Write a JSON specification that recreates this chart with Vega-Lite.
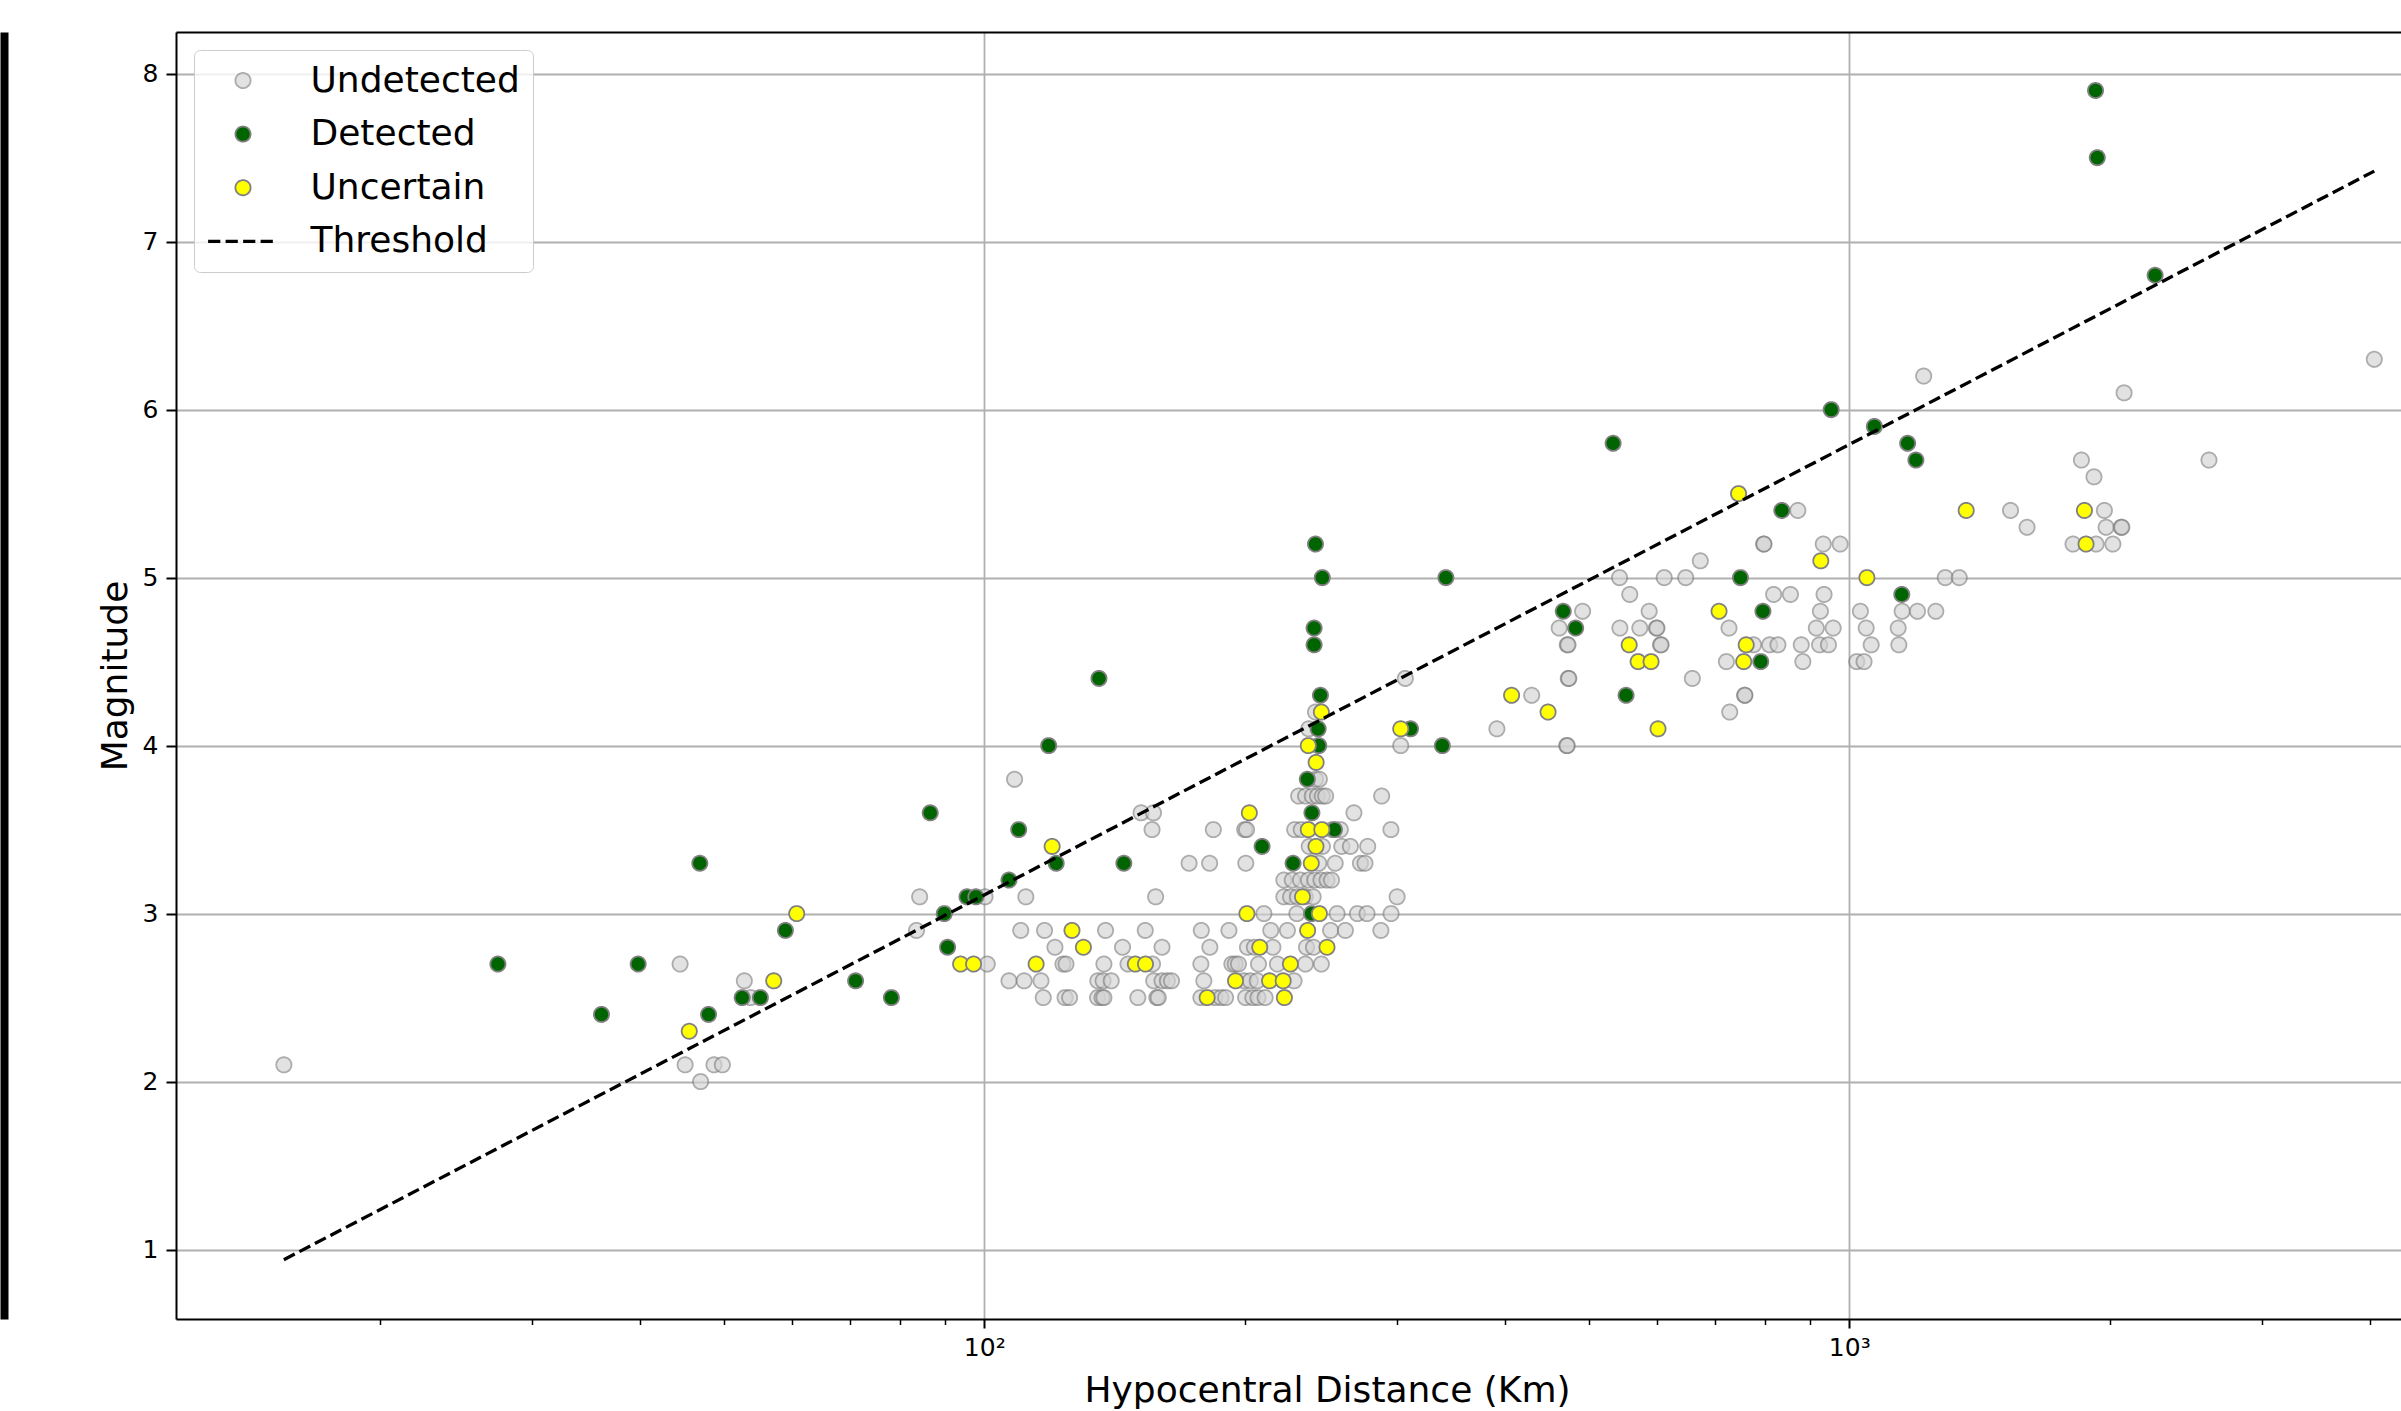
{
  "$schema": "https://vega.github.io/schema/vega-lite/v6.json",
  "width": 2225,
  "height": 1287,
  "autosize": {"type": "none"},
  "padding": {"left": 176, "top": 32, "right": 0, "bottom": 92},
  "background": "white",
  "config": {
    "view": {"stroke": null},
    "font": "DejaVu Sans",
    "legend": {
      "orient": "top-left", "offset": 18, "padding": 12.5, "rowPadding": 17.6,
      "symbolSize": 230, "symbolOffset": 18.5, "labelOffset": 49.5, "symbolOpacity": 1,
      "labelFont": "DejaVu Sans", "labelFontSize": 36, "labelColor": "black", "labelLimit": 500,
      "fillColor": "rgba(255,255,255,0.8)", "strokeColor": "#cccccc", "cornerRadius": 6
    }
  },
  "datasets": {
    "thr": [{"d": 15.5, "m": 0.94}, {"d": 4045, "m": 7.42}],
    "pts": [
      {"d": 15.5, "m": 2.1, "s": "Undetected"},
      {"d": 45.1, "m": 2.1, "s": "Undetected"},
      {"d": 48.7, "m": 2.1, "s": "Undetected"},
      {"d": 49.8, "m": 2.1, "s": "Undetected"},
      {"d": 47.0, "m": 2.0, "s": "Undetected"},
      {"d": 44.5, "m": 2.7, "s": "Undetected"},
      {"d": 52.8, "m": 2.6, "s": "Undetected"},
      {"d": 53.7, "m": 2.5, "s": "Undetected"},
      {"d": 83.5, "m": 2.9, "s": "Undetected"},
      {"d": 84.2, "m": 3.1, "s": "Undetected"},
      {"d": 100.2, "m": 3.1, "s": "Undetected"},
      {"d": 108.4, "m": 3.8, "s": "Undetected"},
      {"d": 111.7, "m": 3.1, "s": "Undetected"},
      {"d": 157.8, "m": 3.1, "s": "Undetected"},
      {"d": 222, "m": 3.1, "s": "Undetected"},
      {"d": 226, "m": 3.1, "s": "Undetected"},
      {"d": 230.1, "m": 3.1, "s": "Undetected"},
      {"d": 235, "m": 3.1, "s": "Undetected"},
      {"d": 240, "m": 3.1, "s": "Undetected"},
      {"d": 300.1, "m": 3.1, "s": "Undetected"},
      {"d": 117.0, "m": 2.5, "s": "Undetected"},
      {"d": 124.0, "m": 2.5, "s": "Undetected"},
      {"d": 125.5, "m": 2.5, "s": "Undetected"},
      {"d": 135.2, "m": 2.5, "s": "Undetected"},
      {"d": 136.8, "m": 2.5, "s": "Undetected"},
      {"d": 137.5, "m": 2.5, "s": "Undetected"},
      {"d": 150.5, "m": 2.5, "s": "Undetected"},
      {"d": 158.3, "m": 2.5, "s": "Undetected"},
      {"d": 158.9, "m": 2.5, "s": "Undetected"},
      {"d": 178.0, "m": 2.5, "s": "Undetected"},
      {"d": 184.8, "m": 2.5, "s": "Undetected"},
      {"d": 187.8, "m": 2.5, "s": "Undetected"},
      {"d": 190.1, "m": 2.5, "s": "Undetected"},
      {"d": 200.5, "m": 2.5, "s": "Undetected"},
      {"d": 204.4, "m": 2.5, "s": "Undetected"},
      {"d": 207.2, "m": 2.5, "s": "Undetected"},
      {"d": 211.2, "m": 2.5, "s": "Undetected"},
      {"d": 106.8, "m": 2.6, "s": "Undetected"},
      {"d": 111.2, "m": 2.6, "s": "Undetected"},
      {"d": 116.3, "m": 2.6, "s": "Undetected"},
      {"d": 135.3, "m": 2.6, "s": "Undetected"},
      {"d": 137.2, "m": 2.6, "s": "Undetected"},
      {"d": 140.2, "m": 2.6, "s": "Undetected"},
      {"d": 157.0, "m": 2.6, "s": "Undetected"},
      {"d": 160.5, "m": 2.6, "s": "Undetected"},
      {"d": 162.8, "m": 2.6, "s": "Undetected"},
      {"d": 164.6, "m": 2.6, "s": "Undetected"},
      {"d": 179.4, "m": 2.6, "s": "Undetected"},
      {"d": 199.7, "m": 2.6, "s": "Undetected"},
      {"d": 203.0, "m": 2.6, "s": "Undetected"},
      {"d": 206.8, "m": 2.6, "s": "Undetected"},
      {"d": 228.1, "m": 2.6, "s": "Undetected"},
      {"d": 100.8, "m": 2.7, "s": "Undetected"},
      {"d": 123.3, "m": 2.7, "s": "Undetected"},
      {"d": 124.3, "m": 2.7, "s": "Undetected"},
      {"d": 137.5, "m": 2.7, "s": "Undetected"},
      {"d": 146.6, "m": 2.7, "s": "Undetected"},
      {"d": 156.5, "m": 2.7, "s": "Undetected"},
      {"d": 178.0, "m": 2.7, "s": "Undetected"},
      {"d": 193.3, "m": 2.7, "s": "Undetected"},
      {"d": 195.0, "m": 2.7, "s": "Undetected"},
      {"d": 196.7, "m": 2.7, "s": "Undetected"},
      {"d": 207.5, "m": 2.7, "s": "Undetected"},
      {"d": 218.2, "m": 2.7, "s": "Undetected"},
      {"d": 235.1, "m": 2.7, "s": "Undetected"},
      {"d": 245.3, "m": 2.7, "s": "Undetected"},
      {"d": 120.7, "m": 2.8, "s": "Undetected"},
      {"d": 144.5, "m": 2.8, "s": "Undetected"},
      {"d": 160.5, "m": 2.8, "s": "Undetected"},
      {"d": 182.3, "m": 2.8, "s": "Undetected"},
      {"d": 201.5, "m": 2.8, "s": "Undetected"},
      {"d": 205.2, "m": 2.8, "s": "Undetected"},
      {"d": 215.6, "m": 2.8, "s": "Undetected"},
      {"d": 235.8, "m": 2.8, "s": "Undetected"},
      {"d": 240.2, "m": 2.8, "s": "Undetected"},
      {"d": 110.2, "m": 2.9, "s": "Undetected"},
      {"d": 117.4, "m": 2.9, "s": "Undetected"},
      {"d": 138.1, "m": 2.9, "s": "Undetected"},
      {"d": 153.5, "m": 2.9, "s": "Undetected"},
      {"d": 178.2, "m": 2.9, "s": "Undetected"},
      {"d": 191.8, "m": 2.9, "s": "Undetected"},
      {"d": 214.4, "m": 2.9, "s": "Undetected"},
      {"d": 224.1, "m": 2.9, "s": "Undetected"},
      {"d": 251.4, "m": 2.9, "s": "Undetected"},
      {"d": 261.5, "m": 2.9, "s": "Undetected"},
      {"d": 287.4, "m": 2.9, "s": "Undetected"},
      {"d": 210.5, "m": 3.0, "s": "Undetected"},
      {"d": 229.8, "m": 3.0, "s": "Undetected"},
      {"d": 255.8, "m": 3.0, "s": "Undetected"},
      {"d": 270.0, "m": 3.0, "s": "Undetected"},
      {"d": 277.0, "m": 3.0, "s": "Undetected"},
      {"d": 295.3, "m": 3.0, "s": "Undetected"},
      {"d": 222, "m": 3.2, "s": "Undetected"},
      {"d": 227, "m": 3.2, "s": "Undetected"},
      {"d": 232, "m": 3.2, "s": "Undetected"},
      {"d": 237, "m": 3.2, "s": "Undetected"},
      {"d": 241, "m": 3.2, "s": "Undetected"},
      {"d": 245, "m": 3.2, "s": "Undetected"},
      {"d": 249, "m": 3.2, "s": "Undetected"},
      {"d": 252, "m": 3.2, "s": "Undetected"},
      {"d": 172.5, "m": 3.3, "s": "Undetected"},
      {"d": 182.2, "m": 3.3, "s": "Undetected"},
      {"d": 200.6, "m": 3.3, "s": "Undetected"},
      {"d": 243.6, "m": 3.3, "s": "Undetected"},
      {"d": 254.5, "m": 3.3, "s": "Undetected"},
      {"d": 272.2, "m": 3.3, "s": "Undetected"},
      {"d": 275.5, "m": 3.3, "s": "Undetected"},
      {"d": 237.5, "m": 3.4, "s": "Undetected"},
      {"d": 246, "m": 3.4, "s": "Undetected"},
      {"d": 259, "m": 3.4, "s": "Undetected"},
      {"d": 265, "m": 3.4, "s": "Undetected"},
      {"d": 277.5, "m": 3.4, "s": "Undetected"},
      {"d": 156.3, "m": 3.5, "s": "Undetected"},
      {"d": 184.0, "m": 3.5, "s": "Undetected"},
      {"d": 200.0, "m": 3.5, "s": "Undetected"},
      {"d": 201.0, "m": 3.5, "s": "Undetected"},
      {"d": 228.5, "m": 3.5, "s": "Undetected"},
      {"d": 232.5, "m": 3.5, "s": "Undetected"},
      {"d": 252.5, "m": 3.5, "s": "Undetected"},
      {"d": 258.0, "m": 3.5, "s": "Undetected"},
      {"d": 295.2, "m": 3.5, "s": "Undetected"},
      {"d": 151.8, "m": 3.6, "s": "Undetected"},
      {"d": 156.9, "m": 3.6, "s": "Undetected"},
      {"d": 267.5, "m": 3.6, "s": "Undetected"},
      {"d": 230.9, "m": 3.7, "s": "Undetected"},
      {"d": 235.2, "m": 3.7, "s": "Undetected"},
      {"d": 239.4, "m": 3.7, "s": "Undetected"},
      {"d": 242.7, "m": 3.7, "s": "Undetected"},
      {"d": 245.9, "m": 3.7, "s": "Undetected"},
      {"d": 248.1, "m": 3.7, "s": "Undetected"},
      {"d": 288.0, "m": 3.7, "s": "Undetected"},
      {"d": 241.5, "m": 3.8, "s": "Undetected"},
      {"d": 244.0, "m": 3.8, "s": "Undetected"},
      {"d": 303, "m": 4.0, "s": "Undetected"},
      {"d": 471.3, "m": 4.0, "s": "Undetected"},
      {"d": 472.0, "m": 4.0, "s": "Undetected"},
      {"d": 237.2, "m": 4.1, "s": "Undetected"},
      {"d": 391.4, "m": 4.1, "s": "Undetected"},
      {"d": 241.5, "m": 4.2, "s": "Undetected"},
      {"d": 727.4, "m": 4.2, "s": "Undetected"},
      {"d": 429.4, "m": 4.3, "s": "Undetected"},
      {"d": 756.8, "m": 4.3, "s": "Undetected"},
      {"d": 757.5, "m": 4.3, "s": "Undetected"},
      {"d": 306.7, "m": 4.4, "s": "Undetected"},
      {"d": 473.3, "m": 4.4, "s": "Undetected"},
      {"d": 474.0, "m": 4.4, "s": "Undetected"},
      {"d": 658.5, "m": 4.4, "s": "Undetected"},
      {"d": 721, "m": 4.5, "s": "Undetected"},
      {"d": 883.7, "m": 4.5, "s": "Undetected"},
      {"d": 1020, "m": 4.5, "s": "Undetected"},
      {"d": 1040, "m": 4.5, "s": "Undetected"},
      {"d": 472, "m": 4.6, "s": "Undetected"},
      {"d": 473, "m": 4.6, "s": "Undetected"},
      {"d": 605, "m": 4.6, "s": "Undetected"},
      {"d": 606, "m": 4.6, "s": "Undetected"},
      {"d": 775, "m": 4.6, "s": "Undetected"},
      {"d": 809, "m": 4.6, "s": "Undetected"},
      {"d": 827, "m": 4.6, "s": "Undetected"},
      {"d": 880, "m": 4.6, "s": "Undetected"},
      {"d": 924, "m": 4.6, "s": "Undetected"},
      {"d": 946, "m": 4.6, "s": "Undetected"},
      {"d": 1060, "m": 4.6, "s": "Undetected"},
      {"d": 1141, "m": 4.6, "s": "Undetected"},
      {"d": 462, "m": 4.7, "s": "Undetected"},
      {"d": 543, "m": 4.7, "s": "Undetected"},
      {"d": 572.6, "m": 4.7, "s": "Undetected"},
      {"d": 598.4, "m": 4.7, "s": "Undetected"},
      {"d": 599.4, "m": 4.7, "s": "Undetected"},
      {"d": 726, "m": 4.7, "s": "Undetected"},
      {"d": 916, "m": 4.7, "s": "Undetected"},
      {"d": 958, "m": 4.7, "s": "Undetected"},
      {"d": 1046, "m": 4.7, "s": "Undetected"},
      {"d": 1139, "m": 4.7, "s": "Undetected"},
      {"d": 491.7, "m": 4.8, "s": "Undetected"},
      {"d": 587, "m": 4.8, "s": "Undetected"},
      {"d": 926, "m": 4.8, "s": "Undetected"},
      {"d": 1030, "m": 4.8, "s": "Undetected"},
      {"d": 1151, "m": 4.8, "s": "Undetected"},
      {"d": 1199, "m": 4.8, "s": "Undetected"},
      {"d": 1259, "m": 4.8, "s": "Undetected"},
      {"d": 557.5, "m": 4.9, "s": "Undetected"},
      {"d": 817.6, "m": 4.9, "s": "Undetected"},
      {"d": 855, "m": 4.9, "s": "Undetected"},
      {"d": 935, "m": 4.9, "s": "Undetected"},
      {"d": 542.5, "m": 5.0, "s": "Undetected"},
      {"d": 611, "m": 5.0, "s": "Undetected"},
      {"d": 647, "m": 5.0, "s": "Undetected"},
      {"d": 1291, "m": 5.0, "s": "Undetected"},
      {"d": 1340, "m": 5.0, "s": "Undetected"},
      {"d": 672.6, "m": 5.1, "s": "Undetected"},
      {"d": 796, "m": 5.2, "s": "Undetected"},
      {"d": 797, "m": 5.2, "s": "Undetected"},
      {"d": 933, "m": 5.2, "s": "Undetected"},
      {"d": 976, "m": 5.2, "s": "Undetected"},
      {"d": 1814, "m": 5.2, "s": "Undetected"},
      {"d": 1929, "m": 5.2, "s": "Undetected"},
      {"d": 2017, "m": 5.2, "s": "Undetected"},
      {"d": 1605, "m": 5.3, "s": "Undetected"},
      {"d": 1981, "m": 5.3, "s": "Undetected"},
      {"d": 2062, "m": 5.3, "s": "Undetected"},
      {"d": 2066, "m": 5.3, "s": "Undetected"},
      {"d": 872, "m": 5.4, "s": "Undetected"},
      {"d": 1536, "m": 5.4, "s": "Undetected"},
      {"d": 1972, "m": 5.4, "s": "Undetected"},
      {"d": 1918, "m": 5.6, "s": "Undetected"},
      {"d": 1855, "m": 5.7, "s": "Undetected"},
      {"d": 2605, "m": 5.7, "s": "Undetected"},
      {"d": 2078, "m": 6.1, "s": "Undetected"},
      {"d": 1219, "m": 6.2, "s": "Undetected"},
      {"d": 4045, "m": 6.3, "s": "Undetected"},
      {"d": 27.4, "m": 2.7, "s": "Detected"},
      {"d": 36.1, "m": 2.4, "s": "Detected"},
      {"d": 39.8, "m": 2.7, "s": "Detected"},
      {"d": 46.9, "m": 3.3, "s": "Detected"},
      {"d": 48.0, "m": 2.4, "s": "Detected"},
      {"d": 52.5, "m": 2.5, "s": "Detected"},
      {"d": 55.1, "m": 2.5, "s": "Detected"},
      {"d": 58.9, "m": 2.9, "s": "Detected"},
      {"d": 71.0, "m": 2.6, "s": "Detected"},
      {"d": 78.1, "m": 2.5, "s": "Detected"},
      {"d": 86.6, "m": 3.6, "s": "Detected"},
      {"d": 89.9, "m": 3.0, "s": "Detected"},
      {"d": 90.7, "m": 2.8, "s": "Detected"},
      {"d": 95.5, "m": 3.1, "s": "Detected"},
      {"d": 97.8, "m": 3.1, "s": "Detected"},
      {"d": 106.8, "m": 3.2, "s": "Detected"},
      {"d": 109.6, "m": 3.5, "s": "Detected"},
      {"d": 118.7, "m": 4.0, "s": "Detected"},
      {"d": 121.1, "m": 3.3, "s": "Detected"},
      {"d": 135.7, "m": 4.4, "s": "Detected"},
      {"d": 145.0, "m": 3.3, "s": "Detected"},
      {"d": 209.5, "m": 3.4, "s": "Detected"},
      {"d": 227.5, "m": 3.3, "s": "Detected"},
      {"d": 236.3, "m": 3.8, "s": "Detected"},
      {"d": 239.2, "m": 3.6, "s": "Detected"},
      {"d": 239.0, "m": 3.0, "s": "Detected"},
      {"d": 240.6, "m": 4.7, "s": "Detected"},
      {"d": 240.6, "m": 4.6, "s": "Detected"},
      {"d": 241.5, "m": 5.2, "s": "Detected"},
      {"d": 245.9, "m": 5.0, "s": "Detected"},
      {"d": 244.7, "m": 4.3, "s": "Detected"},
      {"d": 243.2, "m": 4.1, "s": "Detected"},
      {"d": 243.6, "m": 4.0, "s": "Detected"},
      {"d": 254.0, "m": 3.5, "s": "Detected"},
      {"d": 311.0, "m": 4.1, "s": "Detected"},
      {"d": 338.5, "m": 4.0, "s": "Detected"},
      {"d": 341.7, "m": 5.0, "s": "Detected"},
      {"d": 467.0, "m": 4.8, "s": "Detected"},
      {"d": 482.7, "m": 4.7, "s": "Detected"},
      {"d": 533.3, "m": 5.8, "s": "Detected"},
      {"d": 552.0, "m": 4.3, "s": "Detected"},
      {"d": 748.5, "m": 5.0, "s": "Detected"},
      {"d": 790.0, "m": 4.5, "s": "Detected"},
      {"d": 794.6, "m": 4.8, "s": "Detected"},
      {"d": 835.6, "m": 5.4, "s": "Detected"},
      {"d": 953.0, "m": 6.0, "s": "Detected"},
      {"d": 1069, "m": 5.9, "s": "Detected"},
      {"d": 1150, "m": 4.9, "s": "Detected"},
      {"d": 1168, "m": 5.8, "s": "Detected"},
      {"d": 1194, "m": 5.7, "s": "Detected"},
      {"d": 1926, "m": 7.9, "s": "Detected"},
      {"d": 1935, "m": 7.5, "s": "Detected"},
      {"d": 2257, "m": 6.8, "s": "Detected"},
      {"d": 45.6, "m": 2.3, "s": "Uncertain"},
      {"d": 57.1, "m": 2.6, "s": "Uncertain"},
      {"d": 60.7, "m": 3.0, "s": "Uncertain"},
      {"d": 93.9, "m": 2.7, "s": "Uncertain"},
      {"d": 97.2, "m": 2.7, "s": "Uncertain"},
      {"d": 114.8, "m": 2.7, "s": "Uncertain"},
      {"d": 119.8, "m": 3.4, "s": "Uncertain"},
      {"d": 126.3, "m": 2.9, "s": "Uncertain"},
      {"d": 130.2, "m": 2.8, "s": "Uncertain"},
      {"d": 149.5, "m": 2.7, "s": "Uncertain"},
      {"d": 153.6, "m": 2.7, "s": "Uncertain"},
      {"d": 181.0, "m": 2.5, "s": "Uncertain"},
      {"d": 195.2, "m": 2.6, "s": "Uncertain"},
      {"d": 201.2, "m": 3.0, "s": "Uncertain"},
      {"d": 202.5, "m": 3.6, "s": "Uncertain"},
      {"d": 208.2, "m": 2.8, "s": "Uncertain"},
      {"d": 213.7, "m": 2.6, "s": "Uncertain"},
      {"d": 221.6, "m": 2.6, "s": "Uncertain"},
      {"d": 222.3, "m": 2.5, "s": "Uncertain"},
      {"d": 225.9, "m": 2.7, "s": "Uncertain"},
      {"d": 233.3, "m": 3.1, "s": "Uncertain"},
      {"d": 236.5, "m": 2.9, "s": "Uncertain"},
      {"d": 236.9, "m": 4.0, "s": "Uncertain"},
      {"d": 236.9, "m": 3.5, "s": "Uncertain"},
      {"d": 238.8, "m": 3.3, "s": "Uncertain"},
      {"d": 241.8, "m": 3.4, "s": "Uncertain"},
      {"d": 241.9, "m": 3.9, "s": "Uncertain"},
      {"d": 244.0, "m": 3.0, "s": "Uncertain"},
      {"d": 245.3, "m": 4.2, "s": "Uncertain"},
      {"d": 245.6, "m": 3.5, "s": "Uncertain"},
      {"d": 249.0, "m": 2.8, "s": "Uncertain"},
      {"d": 303, "m": 4.1, "s": "Uncertain"},
      {"d": 407, "m": 4.3, "s": "Uncertain"},
      {"d": 448.5, "m": 4.2, "s": "Uncertain"},
      {"d": 556.6, "m": 4.6, "s": "Uncertain"},
      {"d": 570, "m": 4.5, "s": "Uncertain"},
      {"d": 590, "m": 4.5, "s": "Uncertain"},
      {"d": 601, "m": 4.1, "s": "Uncertain"},
      {"d": 707, "m": 4.8, "s": "Uncertain"},
      {"d": 744.7, "m": 5.5, "s": "Uncertain"},
      {"d": 755, "m": 4.5, "s": "Uncertain"},
      {"d": 760, "m": 4.6, "s": "Uncertain"},
      {"d": 927, "m": 5.1, "s": "Uncertain"},
      {"d": 1048, "m": 5.0, "s": "Uncertain"},
      {"d": 1365, "m": 5.4, "s": "Uncertain"},
      {"d": 1870, "m": 5.4, "s": "Uncertain"},
      {"d": 1878, "m": 5.2, "s": "Uncertain"}
    ]
  },
  "resolve": {"axis": {"x": "independent", "y": "independent"}},
  "layer": [
    {
      "data": {"name": "pts"},
      "mark": {"type": "point", "filled": true, "size": 230},
      "encoding": {
        "x": {
          "field": "d", "type": "quantitative",
          "scale": {"type": "log", "domain": [11.631, 4343], "nice": false},
          "axis": {
            "orient": "bottom", "values": [100, 1000],
            "labelExpr": "datum.value === 100 ? '10²' : datum.value === 1000 ? '10³' : ''",
            "grid": true, "gridColor": "#b0b0b0", "gridWidth": 1.8,
            "domain": true, "domainColor": "black", "domainWidth": 2,
            "ticks": true, "tickSize": 9, "tickWidth": 2, "tickColor": "black",
            "labelFont": "DejaVu Sans", "labelFontSize": 25, "labelColor": "black", "labelPadding": 7,
            "title": "Hypocentral Distance (Km)", "titleFont": "DejaVu Sans", "titleFontSize": 36,
            "titleFontWeight": "normal", "titleColor": "black",
            "titleX": 1151, "titleY": 82, "titleBaseline": "alphabetic", "titleAlign": "center"
          }
        },
        "y": {
          "field": "m", "type": "quantitative",
          "scale": {"domain": [0.587, 8.248], "nice": false, "zero": false},
          "axis": {
            "orient": "left", "values": [1, 2, 3, 4, 5, 6, 7, 8], "format": "d",
            "grid": true, "gridColor": "#b0b0b0", "gridWidth": 1.8,
            "domain": true, "domainColor": "black", "domainWidth": 2,
            "ticks": true, "tickSize": 10, "tickWidth": 2, "tickColor": "black",
            "labelFont": "DejaVu Sans", "labelFontSize": 25, "labelColor": "black", "labelPadding": 8,
            "title": "Magnitude", "titleFont": "DejaVu Sans", "titleFontSize": 36,
            "titleFontWeight": "normal", "titleColor": "black",
            "titleAngle": 270, "titleX": -49.5, "titleY": 643.5, "titleBaseline": "alphabetic", "titleAlign": "center"
          }
        },
        "fill": {
          "field": "s", "type": "nominal",
          "scale": {"domain": ["Undetected", "Detected", "Uncertain", "Threshold"], "range": ["#d3d3d3", "#006400", "#ffff00", "black"]},
          "legend": {"title": null}
        },
        "stroke": {
          "field": "s", "type": "nominal",
          "scale": {"domain": ["Undetected", "Detected", "Uncertain", "Threshold"], "range": ["gray", "gray", "gray", "black"]},
          "legend": {"title": null}
        },
        "shape": {
          "field": "s", "type": "nominal",
          "scale": {"domain": ["Undetected", "Detected", "Uncertain", "Threshold"], "range": ["circle", "circle", "circle", "M-4.6,0H4.6"]},
          "legend": {"title": null}
        },
        "strokeDash": {
          "field": "s", "type": "nominal",
          "scale": {"domain": ["Undetected", "Detected", "Uncertain", "Threshold"], "range": [[1, 0], [1, 0], [1, 0], [12.2, 5.3]]},
          "legend": {"title": null}
        },
        "strokeWidth": {
          "field": "s", "type": "nominal",
          "scale": {"type": "ordinal", "domain": ["Undetected", "Detected", "Uncertain", "Threshold"], "range": [1.8, 1.8, 1.8, 3.3]},
          "legend": {"title": null}
        },
        "opacity": {
          "field": "s", "type": "nominal",
          "scale": {"type": "ordinal", "domain": ["Undetected", "Detected", "Uncertain", "Threshold"], "range": [0.65, 1, 1, 1]},
          "legend": {"title": null}
        }
      }
    },
    {
      "data": {"name": "thr"},
      "mark": {"type": "line", "strokeWidth": 3.3},
      "encoding": {
        "x": {
          "field": "d", "type": "quantitative",
          "scale": {"type": "log", "domain": [11.631, 4343], "nice": false},
          "axis": {"orient": "top", "domain": true, "domainColor": "black", "domainWidth": 2, "ticks": false, "labels": false, "grid": false, "title": null}
        },
        "y": {
          "field": "m", "type": "quantitative",
          "scale": {"domain": [0.587, 8.248], "nice": false, "zero": false},
          "axis": {"orient": "left", "offset": 172, "domain": true, "domainColor": "black", "domainWidth": 8, "ticks": false, "labels": false, "grid": false, "title": null}
        },
        "stroke": {"datum": "Threshold", "type": "nominal"},
        "strokeDash": {"datum": "Threshold", "type": "nominal"}
      }
    },
    {
      "data": {"name": "thr"},
      "mark": {"type": "point", "opacity": 0},
      "encoding": {
        "x": {
          "field": "d", "type": "quantitative",
          "scale": {"type": "log", "domain": [11.631, 4343], "nice": false},
          "axis": {"orient": "bottom", "values": [20, 30, 40, 50, 60, 70, 80, 90, 200, 300, 400, 500, 600, 700, 800, 900, 2000, 3000, 4000],
                   "domain": false, "ticks": true, "tickSize": 5.5, "tickWidth": 1.5, "tickColor": "black", "labels": false, "grid": false, "title": null}
        },
        "y": {
          "field": "m", "type": "quantitative",
          "scale": {"domain": [0.587, 8.248], "nice": false, "zero": false},
          "axis": null
        }
      }
    }
  ]
}
